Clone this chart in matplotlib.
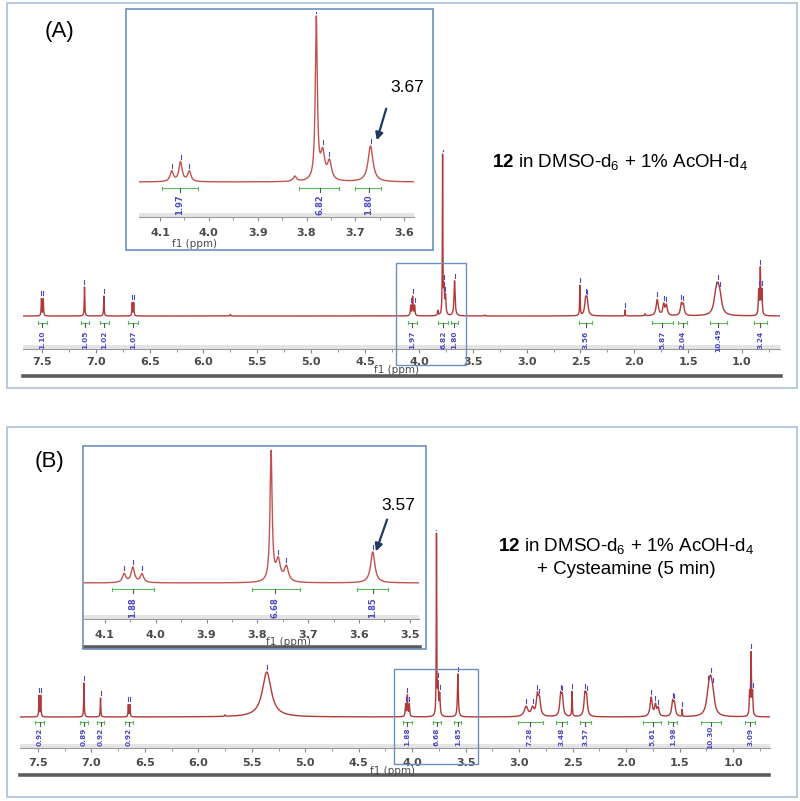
import numpy as np
import matplotlib
matplotlib.use("Agg")
import matplotlib.pyplot as plt
from matplotlib.patches import Rectangle, FancyArrowPatch
from matplotlib.lines import Line2D
from matplotlib.ticker import MultipleLocator, FormatStrFormatter

plt.rcParams['mathtext.fontset'] = 'custom'
plt.rcParams['mathtext.rm'] = 'Liberation Sans'
plt.rcParams['mathtext.bf'] = 'Liberation Sans:bold'

# ---- peak lists (ppm, relative height, half width) ----
# (A) 12 in DMSO-d6 + 1% AcOH-d4
peaks_a_ppm = [7.505, 7.488, 7.105, 6.925, 6.662, 6.648, 5.752, 4.076, 4.058, 4.040,
               3.824, 3.780, 3.767, 3.753, 3.669, 3.390, 2.505, 2.452, 2.438, 2.086,
               1.900, 1.787, 1.727, 1.702, 1.563, 1.545, 1.245, 1.225, 1.205,
               0.845, 0.830, 0.815]
peaks_a_h = [17, 17, 29, 20, 13, 13, 1.5, 10, 19, 10,
             5, 158, 26, 18, 35, 1, 30, 15, 14, 6,
             2, 16, 11, 10, 11, 10, 14, 20, 14,
             24, 46, 24]
peaks_a_w = [0.003, 0.003, 0.003, 0.003, 0.003, 0.003, 0.004, 0.004, 0.004, 0.004,
             0.004, 0.0025, 0.005, 0.005, 0.006, 0.004, 0.003, 0.01, 0.01, 0.002,
             0.004, 0.012, 0.01, 0.01, 0.01, 0.01, 0.02, 0.02, 0.02,
             0.004, 0.004, 0.004]

# (B) + cysteamine (5 min)
peaks_b_ppm = [7.490, 7.474, 7.070, 6.915, 6.655, 6.640, 5.750, 5.360, 4.062, 4.045,
               4.027, 3.773, 3.759, 3.743, 3.573, 2.935, 2.875, 2.830, 2.810, 2.612,
               2.596, 2.505, 2.385, 2.370, 1.765, 1.725, 1.700, 1.565, 1.548, 1.475,
               1.230, 1.210, 1.190, 0.845, 0.831, 0.817]
peaks_b_h = [21, 21, 34, 19, 12, 12, 1.5, 45, 12, 21,
             12, 180, 29, 21, 43, 10, 8, 20, 15, 20,
             18, 25, 20, 18, 19, 11, 8, 14, 12, 7,
             18, 25, 16, 22, 62, 22]
peaks_b_w = [0.003, 0.003, 0.003, 0.003, 0.003, 0.003, 0.004, 0.05, 0.004, 0.004,
             0.004, 0.0025, 0.005, 0.005, 0.005, 0.02, 0.015, 0.012, 0.012, 0.01,
             0.01, 0.003, 0.01, 0.01, 0.012, 0.01, 0.01, 0.01, 0.01, 0.002,
             0.02, 0.02, 0.02, 0.004, 0.004, 0.004]

# ---- integrals: start, end, centre, value ----
int_a_lo = [7.54, 7.14, 6.96, 6.70, 4.10, 3.82, 3.70, 2.51, 1.84, 1.595, 1.30, 0.89]
int_a_hi = [7.45, 7.06, 6.88, 6.61, 4.02, 3.73, 3.64, 2.39, 1.64, 1.51, 1.14, 0.77]
int_a_mid = [7.50, 7.10, 6.92, 6.655, 4.06, 3.775, 3.67, 2.45, 1.74, 1.55, 1.22, 0.83]
int_a_val = ["1.10", "1.05", "1.02", "1.07", "1.97", "6.82", "1.80", "3.56", "5.87",
             "2.04", "10.49", "3.24"]

int_b_lo = [7.53, 7.11, 6.95, 6.69, 4.09, 3.81, 3.61, 3.01, 2.66, 2.43, 1.84, 1.61, 1.30, 0.89]
int_b_hi = [7.44, 7.03, 6.88, 6.61, 4.00, 3.73, 3.54, 2.78, 2.55, 2.33, 1.67, 1.52, 1.11, 0.79]
int_b_mid = [7.48, 7.07, 6.915, 6.65, 4.045, 3.77, 3.573, 2.90, 2.60, 2.38, 1.75, 1.56, 1.21, 0.84]
int_b_val = ["0.92", "0.89", "0.92", "0.92", "1.88", "6.68", "1.85", "7.28", "3.48",
             "3.57", "5.61", "1.98", "10.30", "3.09"]

# inset integrals
ins_a_lo = [4.096, 3.816, 3.700]
ins_a_hi = [4.022, 3.733, 3.647]
ins_a_mid = [4.059, 3.773, 3.673]
ins_a_val = ["1.97", "6.82", "1.80"]

ins_b_lo = [4.086, 3.810, 3.604]
ins_b_hi = [4.004, 3.716, 3.543]
ins_b_mid = [4.045, 3.765, 3.573]
ins_b_val = ["1.88", "6.68", "1.85"]

W, H = 800, 801
RED = '#b03a3a'
RED_IN = '#c25250'
BLUE = '#4a4ac4'
GREEN = '#5cb85c'
BOX = '#6a90bb'
PANEL = '#a9c0d9'
TICK = '#4a4a4a'


def spectrum(x, ppm, h, w):
    y = np.zeros_like(x)
    for p, a, g in zip(ppm, h, w):
        y += a / (1 + ((x - p) / g) ** 2)
    return y


fig = plt.figure(figsize=(W / 100, H / 100), dpi=100)


def px_axes(x0, y0, x1, y1):
    ax = fig.add_axes([x0 / W, 1 - y1 / H, (x1 - x0) / W, (y1 - y0) / H])
    ax.set_facecolor('none')
    return ax


def fig_rect(x0, y0, x1, y1, color, lw):
    fig.add_artist(Rectangle((x0 / W, 1 - y1 / H), (x1 - x0) / W, (y1 - y0) / H,
                             transform=fig.transFigure, fill=False,
                             edgecolor=color, lw=lw, zorder=10))


def fig_bar(x0, x1, y):
    fig.add_artist(Line2D([x0 / W, x1 / W], [1 - y / H, 1 - y / H],
                          transform=fig.transFigure, color='#5c5c5c', lw=2.6))


def draw_spec(ax, x, ppm, h, w, scale, xlim, ylim, major, minor, color, pad):
    y = spectrum(x, ppm, h, w) * scale
    ax.plot(x, y, color=color, lw=1.0)
    # peak picking marks
    for p, a in zip(ppm, h):
        if a * scale >= 6 and min(xlim) < p < max(xlim):
            top = spectrum(np.array([p]), ppm, h, w)[0] * scale
            ax.plot([p, p], [top + 3, top + 7], color=BLUE, lw=0.8)
    ax.axhspan(ylim[0], ylim[0] + 4, color='#e4e4e4', lw=0)
    ax.set_xlim(*xlim)
    ax.set_ylim(*ylim)
    ax.yaxis.set_visible(False)
    for s in ['top', 'left', 'right']:
        ax.spines[s].set_visible(False)
    ax.spines['bottom'].set_color('#9a9a9a')
    ax.xaxis.set_major_locator(MultipleLocator(major))
    ax.xaxis.set_minor_locator(MultipleLocator(minor))
    ax.xaxis.set_major_formatter(FormatStrFormatter('%.1f'))
    ax.tick_params(axis='x', which='both', direction='out', length=3, color='#888888',
                   labelsize=8, labelcolor=TICK, pad=pad)
    ax.tick_params(axis='x', which='minor', length=2)
    for lab in ax.get_xticklabels():
        lab.set_fontweight('bold')


def draw_integrals(ax, lo, hi, mid, vals, ybar, ylab, fs):
    for a, b, c, v in zip(lo, hi, mid, vals):
        ax.plot([a, b], [ybar, ybar], color=GREEN, lw=0.8)
        ax.plot([a, a], [ybar - 1.5, ybar + 1.5], color=GREEN, lw=0.8)
        ax.plot([b, b], [ybar - 1.5, ybar + 1.5], color=GREEN, lw=0.8)
        ax.plot([c, c], [ybar, ybar - 4], color='#555555', lw=0.8)
        ax.text(c, ylab, v, rotation=90, ha='center', va='center', fontsize=fs,
                color=BLUE, family='DejaVu Sans', fontweight='bold')


x_main = np.linspace(7.70, 0.62, 30000)
x_ins = np.linspace(4.16, 3.46, 7000)

# ================= panel A =================
ax_a = px_axes(23, 150, 780, 349)
draw_spec(ax_a, x_main, peaks_a_ppm, peaks_a_h, peaks_a_w, 1.0,
          (7.676, 0.647), (-33, 166), 0.5, 0.25, RED, 3)
draw_integrals(ax_a, int_a_lo, int_a_hi, int_a_mid, int_a_val, -7, -24, 5.3)

ins_a = px_axes(139, 12, 414, 217)
draw_spec(ins_a, x_ins, peaks_a_ppm, peaks_a_h, peaks_a_w, 1.025,
          (4.143, 3.580), (-35, 170), 0.1, 0.05, RED_IN, 5)
draw_integrals(ins_a, ins_a_lo, ins_a_hi, ins_a_mid, ins_a_val, -6, -23, 6)

fig_rect(7, 3, 797, 388, PANEL, 1.2)
fig_rect(126, 9, 433, 250, BOX, 1.2)
fig_rect(396, 263, 466, 365, BOX, 1.0)
fig_bar(23, 781, 376)

fig.text(60 / W, 1 - 32 / H, "(A)", fontsize=16, family='Liberation Sans',
         ha='center', va='center')
fig.text(397 / W, 1 - 370 / H, "f1 (ppm)", fontsize=7.5, family='DejaVu Sans',
         ha='center', va='center', color=TICK)
fig.text(194 / W, 1 - 244 / H, "f1 (ppm)", fontsize=7.5, family='DejaVu Sans',
         ha='center', va='center', color=TICK)
fig.text(407 / W, 1 - 88 / H, "3.67", fontsize=12.5, family='Liberation Sans',
         ha='center', va='center')
fig.add_artist(FancyArrowPatch((387 / W, 1 - 106 / H), (376 / W, 1 - 143 / H),
                               transform=fig.transFigure, arrowstyle='-|>',
                               mutation_scale=11, lw=1.6, color='#1f3864'))
fig.text(620 / W, 1 - 163 / H, r"$\mathbf{12}$ in DMSO-d$_6$ + 1% AcOH-d$_4$",
         fontsize=13.5, family='Liberation Sans', ha='center', va='center')

# ================= panel B =================
ax_b = px_axes(20, 530, 770, 748)
draw_spec(ax_b, x_main, peaks_b_ppm, peaks_b_h, peaks_b_w, 1.0,
          (7.668, 0.654), (-31, 187), 0.5, 0.25, RED, 4)
draw_integrals(ax_b, int_b_lo, int_b_hi, int_b_mid, int_b_val, -5, -20, 5.3)

ins_b = px_axes(84, 449, 419, 619)
draw_spec(ins_b, x_ins, peaks_b_ppm, peaks_b_h, peaks_b_w, 0.722,
          (4.141, 3.482), (-36, 134), 0.1, 0.05, RED_IN, 5)
draw_integrals(ins_b, ins_b_lo, ins_b_hi, ins_b_mid, ins_b_val, -6, -25, 6)

fig_rect(7, 427, 797, 797, PANEL, 1.2)
fig_rect(83, 446, 426, 649, BOX, 1.2)
fig_rect(394, 669, 478, 764, BOX, 1.0)
fig_bar(20, 769, 775)
fig_bar(84, 420, 647)

fig.text(49 / W, 1 - 462 / H, "(B)", fontsize=16, family='Liberation Sans',
         ha='center', va='center')
fig.text(393 / W, 1 - 771 / H, "f1 (ppm)", fontsize=7.5, family='DejaVu Sans',
         ha='center', va='center', color=TICK)
fig.text(289 / W, 1 - 642 / H, "f1 (ppm)", fontsize=7.5, family='DejaVu Sans',
         ha='center', va='center', color=TICK)
fig.text(398 / W, 1 - 506 / H, "3.57", fontsize=12.5, family='Liberation Sans',
         ha='center', va='center')
fig.add_artist(FancyArrowPatch((388 / W, 1 - 517 / H), (375 / W, 1 - 554 / H),
                               transform=fig.transFigure, arrowstyle='-|>',
                               mutation_scale=11, lw=1.6, color='#1f3864'))
fig.text(626 / W, 1 - 547 / H, r"$\mathbf{12}$ in DMSO-d$_6$ + 1% AcOH-d$_4$",
         fontsize=13.5, family='Liberation Sans', ha='center', va='center')
fig.text(626 / W, 1 - 569 / H, "+ Cysteamine (5 min)",
         fontsize=13.5, family='Liberation Sans', ha='center', va='center')

fig.savefig("out.png", dpi=100)
